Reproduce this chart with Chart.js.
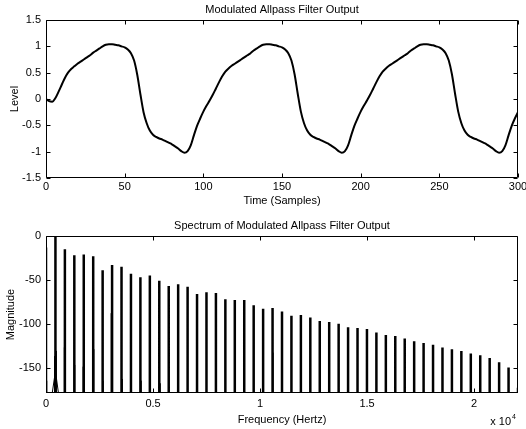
<!DOCTYPE html>
<html>
<head>
<meta charset="utf-8">
<script src="https://cdn.jsdelivr.net/npm/chart.js@4.4.0/dist/chart.umd.min.js"></script>
<style>
  body { margin: 0; background: #fff; }
  #wrap { position: relative; width: 526px; height: 429px; background: #fff; }
  canvas { position: absolute; left: 0; }
  #waveChart { top: 0; }
  #specChart { top: 215px; }
</style>
</head>
<body>
<div id="wrap">
  <canvas id="waveChart" width="526" height="215"></canvas>
  <canvas id="specChart" width="526" height="214"></canvas>
</div>
<script>
// time domain, every 2nd sample
const timeSamples = [
  0, 2, 4, 6, 8, 10, 12, 14, 16, 18, 20, 22, 24, 26, 28, 30, 32, 34, 36, 38,
  40, 42, 44, 46, 48, 50, 52, 54, 56, 58, 60, 62, 64, 66, 68, 70, 72, 74, 76, 78,
  80, 82, 84, 86, 88, 90, 92, 94, 96, 98, 100, 102, 104, 106, 108, 110, 112, 114, 116, 118,
  120, 122, 124, 126, 128, 130, 132, 134, 136, 138, 140, 142, 144, 146, 148, 150, 152, 154, 156, 158,
  160, 162, 164, 166, 168, 170, 172, 174, 176, 178, 180, 182, 184, 186, 188, 190, 192, 194, 196, 198,
  200, 202, 204, 206, 208, 210, 212, 214, 216, 218, 220, 222, 224, 226, 228, 230, 232, 234, 236, 238,
  240, 242, 244, 246, 248, 250, 252, 254, 256, 258, 260, 262, 264, 266, 268, 270, 272, 274, 276, 278,
  280, 282, 284, 286, 288, 290, 292, 294, 296, 298, 300
];
const levelValues = [
  0.00, -0.04, -0.05, 0.02, 0.14, 0.27, 0.40, 0.50, 0.57, 0.62,
  0.67, 0.71, 0.75, 0.79, 0.83, 0.88, 0.92, 0.96, 1.00, 1.03,
  1.04, 1.04, 1.03, 1.02, 1.00, 0.98, 0.94, 0.87, 0.73, 0.46,
  0.09, -0.25, -0.46, -0.60, -0.68, -0.72, -0.75, -0.77, -0.80, -0.83,
  -0.86, -0.90, -0.94, -0.99, -1.02, -0.99, -0.88, -0.69, -0.51, -0.37,
  -0.24, -0.13, -0.03, 0.08, 0.20, 0.32, 0.43, 0.52, 0.58, 0.63,
  0.67, 0.71, 0.75, 0.79, 0.83, 0.87, 0.92, 0.96, 1.00, 1.03,
  1.04, 1.04, 1.03, 1.02, 1.00, 0.98, 0.94, 0.87, 0.73, 0.47,
  0.10, -0.24, -0.46, -0.60, -0.68, -0.72, -0.75, -0.77, -0.80, -0.83,
  -0.86, -0.90, -0.94, -0.99, -1.02, -0.99, -0.88, -0.69, -0.51, -0.37,
  -0.24, -0.13, -0.03, 0.08, 0.20, 0.32, 0.43, 0.52, 0.58, 0.63,
  0.67, 0.71, 0.75, 0.79, 0.83, 0.87, 0.92, 0.96, 1.00, 1.03,
  1.04, 1.04, 1.03, 1.02, 1.00, 0.98, 0.94, 0.87, 0.73, 0.47,
  0.10, -0.24, -0.46, -0.60, -0.68, -0.72, -0.75, -0.77, -0.80, -0.83,
  -0.86, -0.90, -0.94, -0.99, -1.02, -0.99, -0.88, -0.69, -0.51, -0.37,
  -0.25
];

// spectrum: harmonics of 441 Hz
const harmonicHz = [
  0, 441, 882, 1323, 1764, 2205, 2646, 3087, 3528, 3969,
  4410, 4851, 5292, 5733, 6174, 6615, 7056, 7497, 7938, 8379,
  8820, 9261, 9702, 10143, 10584, 11025, 11466, 11907, 12348, 12789,
  13230, 13671, 14112, 14553, 14994, 15435, 15876, 16317, 16758, 17199,
  17640, 18081, 18522, 18963, 19404, 19845, 20286, 20727, 21168, 21609,
  22050
];
const harmonicDb = [
  -13, 0, -15, -22, -21, -23, -39, -33, -35, -43,
  -47, -45, -51, -57, -55, -58, -66, -64, -65, -72,
  -73, -73, -79, -83, -82, -86, -91, -90, -93, -97,
  -98, -100, -104, -105, -106, -110, -113, -114, -117, -120,
  -122, -124, -127, -129, -131, -134, -136, -139, -144, -150,
  -173
];
// thin leakage spikes near the bottom
const leakHz = [30, 400, 480, 860, 910, 1340, 1740, 2230, 2660, 3050, 3560, 3990, 4440, 5330, 6190, 10600, 18990];
const leakDb = [-165, -137, -131, -127, -160, -147, -149, -129, -165, -88, -163, -166, -165, -168, -170, -133, -157];
const lobeHz = [250, 441, 620];
const lobeDb = [-186, -154, -186];
const floorDb = -200;

const timeTicks = [0, 50, 100, 150, 200, 250, 300];
const levelTicks = [-1.5, -1, -0.5, 0, 0.5, 1, 1.5];
const freqTicks = [0, 5000, 10000, 15000, 20000];
const magTicks = [-150, -100, -50, 0];

Chart.defaults.font.family = '"Liberation Sans", Arial, sans-serif';
Chart.defaults.font.size = 11;
Chart.defaults.color = '#000';

// MATLAB style box with inward ticks
const matlabBox = {
  id: 'matlabBox',
  afterDatasetsDraw(chart) {
    const { ctx, chartArea: a, scales } = chart;
    const l = Math.round(a.left) + 0.5, r = Math.round(a.right) - 0.5;
    const t = Math.round(a.top) + 0.5, b = Math.round(a.bottom) - 0.5;
    ctx.save();
    ctx.strokeStyle = '#000';
    ctx.lineWidth = 1;
    ctx.beginPath();
    ctx.rect(l, t, r - l, b - t);
    scales.x.ticks.forEach(tk => {
      const x = Math.round(scales.x.getPixelForValue(tk.value)) + 0.5;
      ctx.moveTo(x, b); ctx.lineTo(x, b - 4);
      ctx.moveTo(x, t); ctx.lineTo(x, t + 4);
    });
    scales.y.ticks.forEach(tk => {
      const y = Math.round(scales.y.getPixelForValue(tk.value)) + 0.5;
      ctx.moveTo(l, y); ctx.lineTo(l + 4, y);
      ctx.moveTo(r, y); ctx.lineTo(r - 4, y);
    });
    ctx.stroke();
    const ex = chart.options.plugins.matlabBox && chart.options.plugins.matlabBox.exponent;
    if (ex) {
      ctx.fillStyle = '#000';
      ctx.textBaseline = 'middle';
      ctx.textAlign = 'right';
      ctx.font = '11px "Liberation Sans", Arial, sans-serif';
      ctx.fillText('x 10', a.right - 7, a.bottom + 29);
      ctx.textAlign = 'left';
      ctx.font = '7px "Liberation Sans", Arial, sans-serif';
      ctx.fillText(ex, a.right - 6, a.bottom + 24);
    }
    ctx.restore();
  }
};

function spikes(xs, ys) {
  const pts = [];
  xs.forEach((x, i) => {
    pts.push({ x: x, y: floorDb }, { x: x, y: ys[i] }, { x: x, y: floorDb });
  });
  return pts;
}

function fixedTicks(values) {
  return s => { s.ticks = values.map(v => ({ value: v })); };
}

new Chart(document.getElementById('waveChart'), {
  type: 'line',
  data: {
    datasets: [{
      data: timeSamples.map((t, i) => ({ x: t, y: levelValues[i] })),
      borderColor: '#000',
      borderWidth: 2,
      pointRadius: 0,
      cubicInterpolationMode: 'monotone'
    }]
  },
  options: {
    responsive: false,
    animation: false,
    devicePixelRatio: 1,
    layout: { padding: { left: 0, right: 8, top: 0, bottom: 0 } },
    plugins: {
      legend: { display: false },
      tooltip: { enabled: false },
      title: {
        display: true,
        text: 'Modulated Allpass Filter Output',
        fullSize: false,
        font: { size: 11, weight: 'normal', lineHeight: '13px' },
        padding: { top: 3, bottom: 4 }
      }
    },
    scales: {
      x: {
        type: 'linear',
        min: 0, max: 300,
        afterBuildTicks: fixedTicks(timeTicks),
        ticks: { padding: 2, maxRotation: 0, autoSkip: false, callback: v => String(v) },
        grid: { display: false, drawTicks: false },
        border: { display: false },
        title: { display: true, text: 'Time (Samples)', font: { size: 11, lineHeight: '13px' }, padding: { top: 0, bottom: 7.5 } },
        // last label may spill past the frame, like the original
        afterFit: s => { s.height = 37; s.paddingRight = 0; }
      },
      y: {
        min: -1.5, max: 1.5,
        afterBuildTicks: fixedTicks(levelTicks),
        ticks: { padding: 5, autoSkip: false, callback: v => String(v) },
        grid: { display: false, drawTicks: false },
        border: { display: false },
        title: { display: true, text: 'Level', font: { size: 11, lineHeight: '13px' }, padding: { top: 8.5, bottom: 0 } },
        afterFit: s => { s.width = 46; }
      }
    }
  },
  plugins: [matlabBox]
});

new Chart(document.getElementById('specChart'), {
  type: 'line',
  data: {
    datasets: [{
      data: spikes(harmonicHz, harmonicDb),
      borderColor: '#000',
      borderWidth: 2.5,
      pointRadius: 0,
      borderJoinStyle: 'bevel'
    }, {
      data: spikes(leakHz, leakDb),
      borderColor: '#000',
      borderWidth: 1,
      pointRadius: 0
    }, {
      data: lobeHz.map((f, i) => ({ x: f, y: lobeDb[i] })),
      borderColor: '#000',
      borderWidth: 1,
      pointRadius: 0
    }]
  },
  options: {
    responsive: false,
    animation: false,
    devicePixelRatio: 1,
    layout: { padding: { left: 0, right: 8, top: 0, bottom: 0 } },
    plugins: {
      legend: { display: false },
      tooltip: { enabled: false },
      title: {
        display: true,
        text: 'Spectrum of Modulated Allpass Filter Output',
        fullSize: false,
        font: { size: 11, weight: 'normal', lineHeight: '13px' },
        padding: { top: 4, bottom: 4 }
      },
      matlabBox: { exponent: '4' }
    },
    scales: {
      x: {
        type: 'linear',
        min: 0, max: 22050,
        afterBuildTicks: fixedTicks(freqTicks),
        ticks: { padding: 4, maxRotation: 0, autoSkip: false, callback: v => String(v / 10000) },
        grid: { display: false, drawTicks: false },
        border: { display: false },
        title: { display: true, text: 'Frequency (Hertz)', font: { size: 11, lineHeight: '13px' }, padding: { top: 0, bottom: 2.5 } },
        afterFit: s => { s.height = 36; }
      },
      y: {
        min: -179, max: 0,
        afterBuildTicks: fixedTicks(magTicks),
        ticks: { padding: 5, autoSkip: false, callback: v => String(v) },
        grid: { display: false, drawTicks: false },
        border: { display: false },
        title: { display: true, text: 'Magnitude', font: { size: 11, lineHeight: '13px' }, padding: { top: 4, bottom: 0 } },
        afterFit: s => { s.width = 46; }
      }
    }
  },
  plugins: [matlabBox]
});
</script>
</body>
</html>
